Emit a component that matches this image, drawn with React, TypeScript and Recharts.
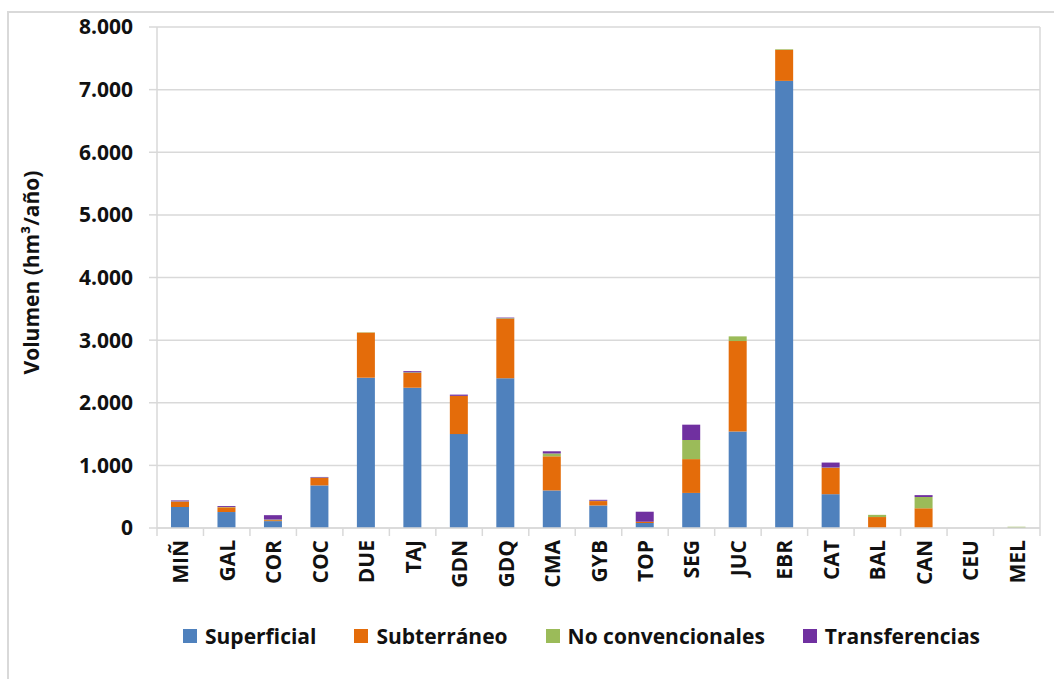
import React from 'react';
import { BarChart, Bar, XAxis, YAxis, CartesianGrid, Label } from 'recharts';

const categories = ['MIÑ', 'GAL', 'COR', 'COC', 'DUE', 'TAJ', 'GDN', 'GDQ', 'CMA', 'GYB', 'TOP', 'SEG', 'JUC', 'EBR', 'CAT', 'BAL', 'CAN', 'CEU', 'MEL'];
const superficial = [335, 255, 110, 680, 2400, 2240, 1500, 2390, 600, 360, 80, 560, 1540, 7140, 540, 0, 0, 0, 0];
const subterraneo = [85, 75, 15, 120, 720, 235, 610, 950, 545, 70, 20, 540, 1445, 495, 420, 175, 315, 0, 0];
const noConvencionales = [5, 5, 10, 5, 5, 10, 0, 10, 45, 5, 0, 305, 75, 10, 5, 35, 180, 0, 20];
const transferencias = [15, 15, 70, 10, 0, 20, 20, 10, 35, 15, 160, 245, 0, 0, 80, 0, 30, 0, 0];
const yTicks = [0, 1000, 2000, 3000, 4000, 5000, 6000, 7000, 8000];
const yTitle = 'Volumen (hm³/año)';

const series = [
  { key: 'superficial', name: 'Superficial', color: '#4f81bd' },
  { key: 'subterraneo', name: 'Subterráneo', color: '#e46c0a' },
  { key: 'noConvencionales', name: 'No convencionales', color: '#9bbb59' },
  { key: 'transferencias', name: 'Transferencias', color: '#7030a0' },
];

const data = categories.map((c, i) => ({
  cat: c,
  superficial: superficial[i],
  subterraneo: subterraneo[i],
  noConvencionales: noConvencionales[i],
  transferencias: transferencias[i],
}));

const FONT = '"Open Sans", "Liberation Sans", sans-serif';
const GRID = '#d9d9d9';

const fmt = (v: number) => String(v).replace(/\B(?=(\d{3})+(?!\d))/g, '.');

const XTick = (props: any) => {
  const { x, y, payload, index } = props;
  const off = payload && typeof payload.offset === 'number' && payload.offset > 0 ? payload.offset : 23.2;
  const last = index === categories.length - 1;
  return (
    <g>
      <line x1={x - off} x2={x - off} y1={y} y2={y + 8} stroke={GRID} strokeWidth={1.5} />
      {last && <line x1={x + off} x2={x + off} y1={y} y2={y + 8} stroke={GRID} strokeWidth={1.5} />}
      <text
        x={x}
        y={y + 12}
        transform={`rotate(-90, ${x}, ${y + 12})`}
        textAnchor="end"
        dominantBaseline="central"
        fontFamily={FONT}
        fontWeight={700}
        fontSize={21}
        fill="#111"
      >
        {payload.value}
      </text>
    </g>
  );
};

const LegendBlock = () => (
  <div style={{ position: 'absolute', left: 183, top: 621, display: 'flex', alignItems: 'center', fontFamily: FONT, fontWeight: 700, fontSize: 21, color: '#111', whiteSpace: 'nowrap', height: 30 }}>
    {series.map((s) => (
      <div key={s.key} style={{ display: 'flex', alignItems: 'center', marginRight: 38 }}>
        <span style={{ display: 'inline-block', width: 14, height: 14, background: s.color, marginRight: 8 }} />
        <span>{s.name}</span>
      </div>
    ))}
  </div>
);

const YTitle = (props: any) => {
  const vb = props.viewBox || { x: 0, y: 27, width: 0, height: 501 };
  const cx = 31;
  const cy = vb.y + vb.height / 2 - 5;
  return (
    <text
      x={cx}
      y={cy}
      transform={`rotate(-90, ${cx}, ${cy})`}
      textAnchor="middle"
      dominantBaseline="central"
      fontFamily={FONT}
      fontWeight={700}
      fontSize={21}
      fill="#111"
    >
      {yTitle}
    </text>
  );
};

export default function App() {
  return (
    <div style={{ position: 'absolute', left: 0, top: 0, width: 1054, height: 679, background: '#fff', overflow: 'hidden' }}>
      <div style={{ position: 'absolute', left: 7, top: 11, width: 1100, height: 700, borderLeft: `2px solid ${GRID}`, borderTop: `2px solid ${GRID}` }} />
      <div style={{ position: 'absolute', left: 0, top: 0 }}>
        <BarChart width={1054} height={679} data={data} margin={{ top: 27, right: 13, left: 20, bottom: 51 }} barSize={18}>
          <CartesianGrid vertical={false} stroke={GRID} strokeWidth={1.5} />
          <XAxis
            dataKey="cat"
            interval={0}
            tickLine={false}
            tickSize={0}
            tickMargin={0}
            axisLine={{ stroke: GRID, strokeWidth: 1.5 }}
            tick={<XTick />}
            height={100}
          />
          <YAxis
            width={137}
            domain={[0, 8000]}
            ticks={yTicks}
            tickFormatter={fmt}
            axisLine={{ stroke: GRID, strokeWidth: 1.5 }}
            tickLine={{ stroke: GRID, strokeWidth: 1.5 }}
            tickSize={8}
            tickMargin={16}
            tick={{ fontFamily: FONT, fontWeight: 700, fontSize: 21, fill: '#111' }}
          >
            <Label content={<YTitle />} />
          </YAxis>
          <YAxis
            yAxisId="right"
            orientation="right"
            width={1}
            tick={false}
            tickLine={false}
            axisLine={{ stroke: GRID, strokeWidth: 1.5 }}
          />
          {series.map((s) => (
            <Bar key={s.key} dataKey={s.key} name={s.name} stackId="a" fill={s.color} isAnimationActive={false} />
          ))}
        </BarChart>
      </div>
      <LegendBlock />
    </div>
  );
}
